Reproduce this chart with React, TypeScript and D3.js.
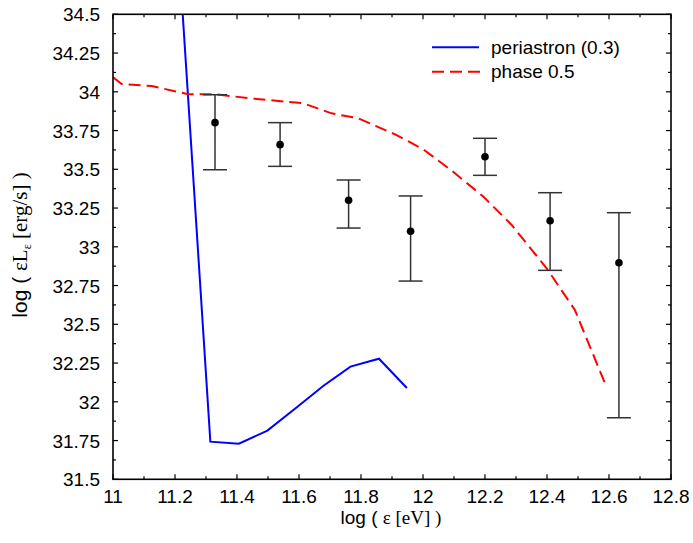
import React from "react";
import * as d3 from "d3";

const periX = [11.2, 11.314, 11.406, 11.498, 11.59, 11.678, 11.766, 11.858, 11.948];
const periY = [35.27, 31.743, 31.73, 31.814, 31.96, 32.102, 32.227, 32.278, 32.089];

const phaseX = [11.0, 11.028, 11.125, 11.243, 11.33, 11.442, 11.614, 11.705, 11.791, 11.915, 12.0, 12.093, 12.195, 12.286, 12.399, 12.49, 12.587];
const phaseY = [34.094, 34.05, 34.037, 33.984, 33.984, 33.958, 33.926, 33.861, 33.829, 33.721, 33.63, 33.491, 33.323, 33.141, 32.861, 32.592, 32.119];

const obsX = [11.329, 11.539, 11.76, 11.96, 12.2, 12.41, 12.632];
const obsY = [33.801, 33.659, 33.3, 33.1, 33.581, 33.168, 32.897];
const obsHi = [33.981, 33.801, 33.431, 33.328, 33.7, 33.349, 33.22];
const obsLo = [33.497, 33.519, 33.121, 32.779, 33.461, 32.848, 31.897];

const xTicks = [11, 11.2, 11.4, 11.6, 11.8, 12, 12.2, 12.4, 12.6, 12.8];
const xTickLabels = ["11", "11.2", "11.4", "11.6", "11.8", "12", "12.2", "12.4", "12.6", "12.8"];
const yTicks = [31.5, 31.75, 32, 32.25, 32.5, 32.75, 33, 33.25, 33.5, 33.75, 34, 34.25, 34.5];
const yTickLabels = ["31.5", "31.75", "32", "32.25", "32.5", "32.75", "33", "33.25", "33.5", "33.75", "34", "34.25", "34.5"];
const xMinor = [11.1, 11.3, 11.5, 11.7, 11.9, 12.1, 12.3, 12.5, 12.7];
const yMinor = [31.625, 31.875, 32.125, 32.375, 32.625, 32.875, 33.125, 33.375, 33.625, 33.875, 34.125, 34.375];

const seriesNames = ["periastron (0.3)", "phase 0.5"];

const W = 693, H = 543;
const L = 113, R = 671, T = 14.3, B = 479.3;
const sans = "'Liberation Sans', Arial, sans-serif";
const serif = "'Liberation Serif', 'Times New Roman', serif";

export default function App() {
  const x = d3.scaleLinear().domain([11, 12.8]).range([L, R]);
  const y = d3.scaleLinear().domain([31.5, 34.5]).range([B, T]);
  const mk = (xs: number[], ys: number[]) =>
    d3.line<number>().x((d) => x(d)).y((_, i) => y(ys[i]))(xs) || "";

  return (
    <svg width={W} height={H} style={{ position: "absolute", left: 0, top: 0, background: "#fff" }}>
      <defs>
        <clipPath id="plot">
          <rect x={L} y={T} width={R - L} height={B - T} />
        </clipPath>
      </defs>
      <rect x={0} y={0} width={W} height={H} fill="#fff" />

      {/* ticks */}
      <g stroke="#000" strokeWidth={1.2}>
        {xTicks.map((t, i) => (
          <g key={"xt" + i}>
            <line x1={x(t)} x2={x(t)} y1={B} y2={B - 5} />
            <line x1={x(t)} x2={x(t)} y1={T} y2={T + 5} />
          </g>
        ))}
        {xMinor.map((t, i) => (
          <g key={"xm" + i}>
            <line x1={x(t)} x2={x(t)} y1={B} y2={B - 3} />
            <line x1={x(t)} x2={x(t)} y1={T} y2={T + 3} />
          </g>
        ))}
        {yTicks.map((t, i) => (
          <g key={"yt" + i}>
            <line x1={L} x2={L + 5} y1={y(t)} y2={y(t)} />
            <line x1={R} x2={R - 5} y1={y(t)} y2={y(t)} />
          </g>
        ))}
        {yMinor.map((t, i) => (
          <g key={"ym" + i}>
            <line x1={L} x2={L + 3} y1={y(t)} y2={y(t)} />
            <line x1={R} x2={R - 3} y1={y(t)} y2={y(t)} />
          </g>
        ))}
      </g>

      {/* tick labels */}
      <g fontFamily={sans} fontSize={19} fill="#000">
        {xTicks.map((t, i) => (
          <text key={"xl" + i} x={x(t)} y={503} textAnchor="middle">{xTickLabels[i]}</text>
        ))}
        {yTicks.map((t, i) => (
          <text key={"yl" + i} x={100} y={y(t) + 7} textAnchor="end">{yTickLabels[i]}</text>
        ))}
      </g>

      {/* data */}
      <g clipPath="url(#plot)">
        <path d={mk(periX, periY)} fill="none" stroke="#0000ff" strokeWidth={2} />
        <path d={mk(phaseX, phaseY)} fill="none" stroke="#ff0000" strokeWidth={2} strokeDasharray="12,6" />
      </g>

      <g stroke="#333" strokeWidth={1.5}>
        {obsX.map((v, i) => (
          <g key={"e" + i}>
            <line x1={x(v)} x2={x(v)} y1={y(obsHi[i])} y2={y(obsLo[i])} />
            <line x1={x(v) - 12} x2={x(v) + 12} y1={y(obsHi[i])} y2={y(obsHi[i])} />
            <line x1={x(v) - 12} x2={x(v) + 12} y1={y(obsLo[i])} y2={y(obsLo[i])} />
          </g>
        ))}
      </g>
      {obsX.map((v, i) => (
        <circle key={"c" + i} cx={x(v)} cy={y(obsY[i])} r={3.8} fill="#000" />
      ))}

      {/* frame */}
      <rect x={L} y={T} width={R - L} height={B - T} fill="none" stroke="#000" strokeWidth={1.6} />

      {/* legend */}
      <line x1={432} x2={479} y1={47.3} y2={47.3} stroke="#0000ff" strokeWidth={2} />
      <text x={491} y={54} fontFamily={sans} fontSize={19}>{seriesNames[0]}</text>
      <line x1={432} x2={480} y1={71.7} y2={71.7} stroke="#ff0000" strokeWidth={2} strokeDasharray="12,6" />
      <text x={491} y={78} fontFamily={sans} fontSize={19}>{seriesNames[1]}</text>

      {/* axis titles */}
      <text x={391} y={524} textAnchor="middle" fontSize={19}>
        <tspan fontFamily={sans}>log ( </tspan>
        <tspan fontFamily={serif}>ε [eV] )</tspan>
      </text>
      <text transform="translate(27,245) rotate(-90)" textAnchor="middle" fontSize={21}>
        <tspan fontFamily={sans}>log ( </tspan>
        <tspan fontFamily={serif}>εL</tspan>
        <tspan fontFamily={serif} fontSize={12} dy={4}>ε</tspan>
        <tspan fontFamily={serif} dy={-4}> [erg/s] )</tspan>
      </text>
    </svg>
  );
}
